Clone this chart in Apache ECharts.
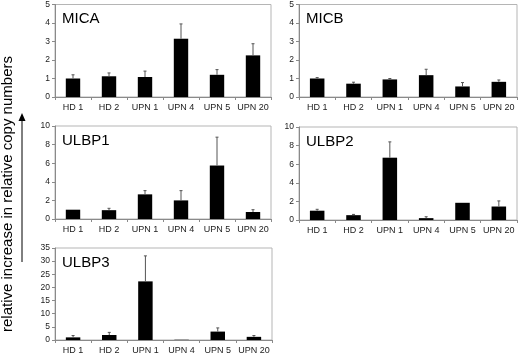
<!DOCTYPE html>
<html>
<head>
<meta charset="utf-8">
<script src="https://cdn.jsdelivr.net/npm/echarts@6/dist/echarts.min.js"></script>
<style>
  html, body { margin: 0; padding: 0; background: #fff; }
  #chart { width: 520px; height: 355px; }
</style>
</head>
<body>
<div id="chart"></div>
<script>
const categories = ['HD 1', 'HD 2', 'UPN 1', 'UPN 4', 'UPN 5', 'UPN 20']

// mean values and top of error bar for each gene
const micaValues = [1.0, 1.12, 1.08, 3.15, 1.2, 2.25]
const micaErrTop = [1.2, 1.3, 1.4, 3.95, 1.48, 2.88]
const micbValues = [1.0, 0.72, 0.95, 1.18, 0.57, 0.82]
const micbErrTop = [1.05, 0.8, 1.0, 1.5, 0.78, 0.92]
const ulbp1Values = [1.0, 0.95, 2.65, 2.0, 5.75, 0.75]
const ulbp1ErrTop = [1.0, 1.15, 3.05, 3.05, 8.8, 1.0]
const ulbp2Values = [1.0, 0.52, 6.7, 0.2, 1.85, 1.45]
const ulbp2ErrTop = [1.15, 0.6, 8.4, 0.35, 1.85, 2.05]
const ulbp3Values = [1.0, 1.9, 22.3, 0.1, 3.2, 1.2]
const ulbp3ErrTop = [1.7, 2.9, 32, 0.2, 4.6, 1.7]

const panels = [
  { name: 'MICA', values: micaValues, err: micaErrTop, max: 5, interval: 1, grid: { left: 55, top: 4, width: 216, height: 93 } },
  { name: 'MICB', values: micbValues, err: micbErrTop, max: 5, interval: 1, grid: { left: 299, top: 4, width: 218, height: 93 } },
  { name: 'ULBP1', values: ulbp1Values, err: ulbp1ErrTop, max: 10, interval: 2, grid: { left: 55, top: 126, width: 216, height: 93 } },
  { name: 'ULBP2', values: ulbp2Values, err: ulbp2ErrTop, max: 10, interval: 2, grid: { left: 299, top: 127, width: 218, height: 93 } },
  { name: 'ULBP3', values: ulbp3Values, err: ulbp3ErrTop, max: 35, interval: 5, grid: { left: 55, top: 248, width: 217, height: 94 } },
]

const font = 'Liberation Sans, Arial, sans-serif'
const axisGray = '#8a8a8a'

const chart = echarts.init(document.getElementById('chart'))

const option = {
  animation: false,
  backgroundColor: '#fff',
  title: panels.map((p) => ({
    text: p.name,
    left: p.grid.left + 7,
    top: p.grid.top + 7,
    textStyle: { fontFamily: font, fontSize: 15, fontWeight: 'normal', color: '#000' },
    padding: 0,
  })),
  grid: panels.map((p) => ({
    ...p.grid,
    show: true,
    borderColor: '#b5b5b5',
    borderWidth: 1,
    backgroundColor: '#fff',
  })),
  xAxis: panels.map((p, i) => ({
    type: 'category',
    gridIndex: i,
    data: categories,
    axisLine: { lineStyle: { color: axisGray } },
    axisTick: { show: true, length: 3, interval: 0, lineStyle: { color: axisGray } },
    axisLabel: { fontFamily: font, fontSize: 9, color: '#222', margin: 6, interval: 0 },
  })),
  yAxis: panels.map((p, i) => ({
    type: 'value',
    gridIndex: i,
    min: 0,
    max: p.max,
    interval: p.interval,
    splitLine: { show: false },
    axisLine: { show: true, lineStyle: { color: axisGray } },
    axisTick: { show: true, length: 3, lineStyle: { color: axisGray } },
    axisLabel: { fontFamily: font, fontSize: 8.5, color: '#222', margin: 5 },
  })),
  series: [
    ...panels.map((p, i) => ({
      type: 'bar',
      xAxisIndex: i,
      yAxisIndex: i,
      data: p.values,
      barWidth: '40%',
      itemStyle: { color: '#000' },
    })),
    ...panels.map((p, i) => ({
      type: 'custom',
      xAxisIndex: i,
      yAxisIndex: i,
      data: p.values.map((v, j) => [j, v, p.err[j]]),
      renderItem: (params, api) => {
        const base = api.coord([api.value(0), api.value(1)])
        const top = api.coord([api.value(0), api.value(2)])
        if (top[1] >= base[1] - 0.5) return null
        return {
          type: 'group',
          children: [
            { type: 'line', shape: { x1: base[0], y1: base[1], x2: top[0], y2: top[1] }, style: { stroke: '#555', lineWidth: 1 } },
            { type: 'line', shape: { x1: top[0] - 1.5, y1: top[1], x2: top[0] + 1.5, y2: top[1] }, style: { stroke: '#555', lineWidth: 1 } },
          ],
        }
      },
      z: 3,
    })),
  ],
  graphic: [
    {
      type: 'text',
      x: 8,
      y: 194,
      rotation: Math.PI / 2,
      style: {
        text: 'relative increase in relative copy numbers',
        font: '15px ' + font,
        fill: '#000',
        align: 'center',
        verticalAlign: 'middle',
      },
    },
    {
      type: 'line',
      shape: { x1: 22, y1: 262, x2: 22, y2: 120 },
      style: { stroke: '#000', lineWidth: 1 },
    },
    {
      type: 'polygon',
      shape: { points: [[22, 113], [18.5, 121], [25.5, 121]] },
      style: { fill: '#000' },
    },
  ],
}

chart.setOption(option)
</script>
</body>
</html>
